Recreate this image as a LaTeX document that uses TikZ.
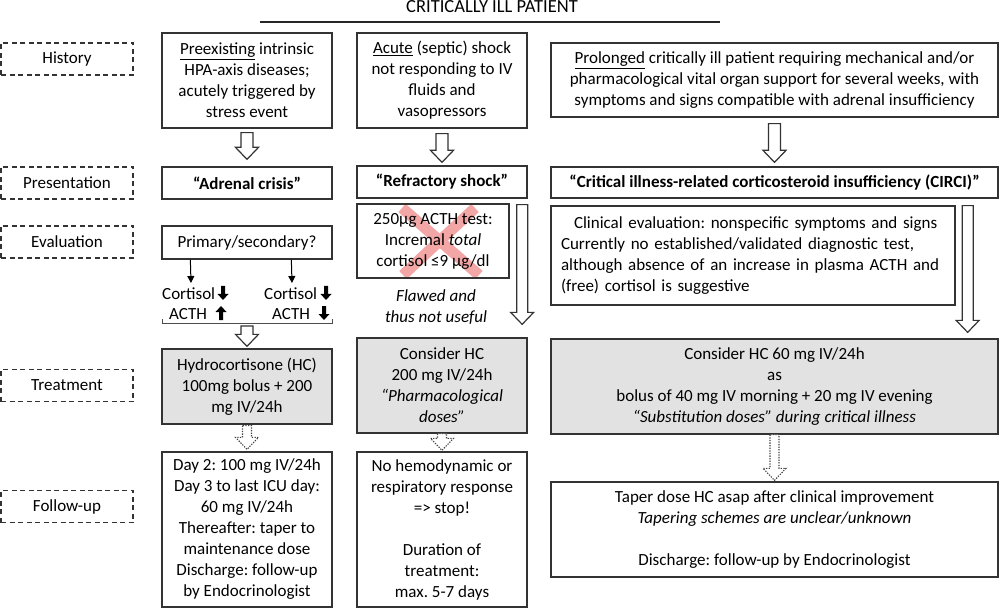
\documentclass[tikz,border=0pt]{standalone}
\usepackage{fontspec}
\setmainfont{Carlito}
\usetikzlibrary{calc,arrows.meta}
\definecolor{xred}{RGB}{240,150,150}
\definecolor{boxgray}{RGB}{226,226,226}
\newcommand\hollow[4][harrow]{%
  \draw[#1] let \p1=(#2), \p2=(#3) in
   (\x1-#4,\y1) -- (\x1-#4,\y2+12pt) -- (\x1-11.5pt,\y2+12pt) -- (\x1,\y2)
   -- (\x1+11.5pt,\y2+12pt) -- (\x1+#4,\y2+12pt) -- (\x1+#4,\y1) -- cycle;}
\begin{document}
\frenchspacing
\begin{tikzpicture}[x=1pt,y=-1pt,
  every node/.style={font=\fontsize{17}{21}\selectfont},
  box/.style={draw=black!80, line width=1.3pt, align=center, inner sep=2pt},
  gbox/.style={box, fill=boxgray},
  lab/.style={draw=black!80, dash pattern=on 5pt off 3.5pt, line width=1.4pt,
    minimum width=132pt, minimum height=32pt, inner sep=0pt},
  harrow/.style={draw=black!80, line width=1.2pt, fill=white},
  darrow/.style={draw=black!75, line width=1.1pt, fill=white, dash pattern=on 1.3pt off 1.3pt},
  thickdown/.pic={\fill (-2,-7) -- (2,-7) -- (2,1) -- (5.5,1) -- (0,7) -- (-5.5,1) -- (-2,1) -- cycle;},
  thickup/.pic={\fill (-2,7) -- (2,7) -- (2,-1) -- (5.5,-1) -- (0,-7) -- (-5.5,-1) -- (-2,-1) -- cycle;}
]
\useasboundingbox (0,0) rectangle (1000,609);

% title
\node[anchor=base, font=\fontsize{18.5}{21}\selectfont] (title) at (492,13) {CRITICALLY ILL PATIENT};
\draw[line width=1.5pt, black!85] (260,22) -- (720,22);

% row labels
\node[lab] (l1) at (67,59) {History};
\node[lab] (l2) at (67,183) {Presentation};
\node[lab] (l3) at (67,242) {Evaluation};
\node[lab] (l4) at (67,385.5) {Treatment};
\node[lab] (l5) at (67,506.5) {Follow-up};

% history
\node[box, minimum width=170pt, minimum height=95pt] (h1) at (247,80.5)
  {\underline{Preexisting} intrinsic\\HPA-axis diseases;\\acutely triggered by\\stress event};
\node[box, minimum width=170pt, minimum height=95pt] (h2) at (442,80.5)
  {\underline{Acute} (septic) shock\\not responding to IV\\fluids and\\vasopressors};
\node[box, minimum width=447pt, minimum height=74pt] (h3) at (774.5,80)
  {\underline{Prolonged} critically ill patient requiring mechanical and/or\\pharmacological vital organ support for several weeks, with\\symptoms and signs compatible with adrenal insufficiency};

% presentation
\node[box, minimum width=170pt, minimum height=32pt, font=\fontsize{17}{21}\selectfont\bfseries] (p1) at (247,183) {“Adrenal crisis”};
\node[box, minimum width=170pt, minimum height=32pt, font=\fontsize{17}{21}\selectfont\bfseries] (p2) at (442,182) {“Refractory shock”};
\node[box, minimum width=447pt, minimum height=31pt, font=\fontsize{17}{21}\selectfont\bfseries] (p3) at (774.5,182.5) {“Critical illness-related corticosteroid insufficiency (CIRCI)”};

% evaluation
\node[box, minimum width=170pt, minimum height=33pt] (ps) at (247,242.5) {Primary/secondary?};
\coordinate (aL) at (191,283);
\coordinate (aR) at (292,283);
\draw[black, line width=1pt, -{Triangle[length=7pt,width=7pt]}] ($(ps.south west)+(29,0)$) -- (aL);
\draw[black, line width=1pt, -{Triangle[length=7pt,width=7pt]}] ($(ps.south west)+(130,0)$) -- (aR);
\node[anchor=base west, inner sep=0pt] (cL) at (162,299) {Cortisol};
\node[anchor=base west, inner sep=0pt] (tL) at (169,319) {ACTH};
\node[anchor=base west, inner sep=0pt] (cR) at (264,299) {Cortisol};
\node[anchor=base west, inner sep=0pt] (tR) at (272,319) {ACTH};
\path (223,293) pic{thickdown};
\path (221,313) pic{thickup};
\path (326,293) pic{thickdown};
\path (324,313) pic{thickdown};
\draw[black!70, line width=0.9pt] (162,319) -- (162,323) -- (332,323) -- (332,319);
\coordinate (br) at (247,326);

\draw[xred, line width=11pt, opacity=0.85] (402,208) -- (479,275) (475,208) -- (403,275);
\node[box, minimum width=152pt, minimum height=74pt] (acth) at (433,241)
  {250µg ACTH test:\\Incremal \textit{total}\\cortisol ≤9 µg/dl};
\node[align=center, font=\fontsize{17}{20.5}\selectfont\itshape] (flawed) at (436,307) {Flawed and\\thus not useful};

\node[box, text width=384pt, inner xsep=10pt, minimum height=99pt, align=left] (ev3) at (753,255.5)
  {\hspace*{13pt}Clinical evaluation: nonspecific symptoms and signs\\Currently no established/validated diagnostic test,\\although absence of an increase in plasma ACTH and\\(free) cortisol is suggestive};

% treatment
\node[gbox, minimum width=170pt, minimum height=75pt] (tr1) at (247,386.5)
  {Hydrocortisone (HC)\\100mg bolus + 200\\mg IV/24h};
\node[gbox, minimum width=170pt, minimum height=95pt] (tr2) at (442,385.5)
  {Consider HC\\200 mg IV/24h\\\textit{“Pharmacological}\\\textit{doses”}};
\node[gbox, minimum width=447pt, minimum height=95pt] (tr3) at (774.5,386.5)
  {Consider HC 60 mg IV/24h\\as\\bolus of 40 mg IV morning + 20 mg IV evening\\\textit{“Substitution doses” during critical illness}};

% follow-up
\node[box, minimum width=170pt, minimum height=155pt] (fu1) at (247,529.5)
  {Day 2: 100 mg IV/24h\\Day 3 to last ICU day:\\60 mg IV/24h\\Thereafter: taper to\\maintenance dose\\Discharge: follow-up\\by Endocrinologist};
\node[box, minimum width=170pt, minimum height=155pt] (fu2) at (442,529.5)
  {No hemodynamic or\\respiratory response\\=> stop!\\[21pt]Duration of\\treatment:\\max. 5-7 days};
\node[box, minimum width=447pt, minimum height=95pt] (fu3) at (774.5,529.5)
  {Taper dose HC asap after clinical improvement\\\textit{Tapering schemes are unclear/unknown}\\[21pt]Discharge: follow-up by Endocrinologist};

% hollow arrows
\hollow{$(h1.south)+(0,4)$}{$(p1.north)+(0,-7)$}{6pt}
\hollow{$(h2.south)+(0,5)$}{$(p2.north)+(0,-3)$}{6pt}
\hollow{$(h3.south)+(0,6)$}{$(p3.north)+(0,-4)$}{6pt}
\hollow{br}{$(tr1.north)+(0,-2)$}{6pt}
\hollow{$(p2.south east)+(-5.5,6)$}{$(tr2.north east)+(-5.5,-13)$}{5.5pt}
\hollow{$(p3.south east)+(-31,7)$}{$(tr3.north east)+(-31,-6)$}{5.5pt}
\hollow[darrow]{$(tr1.south)+(0,1)$}{$(fu1.north)+(0,-2)$}{4.5pt}
\hollow[darrow]{$(tr2.south)+(0,0)$}{$(fu2.north)+(0,-1)$}{4.5pt}
\hollow[darrow]{$(tr3.south)+(0,0)$}{$(fu3.north)+(0,-1)$}{4.5pt}
\end{tikzpicture}
\end{document}
